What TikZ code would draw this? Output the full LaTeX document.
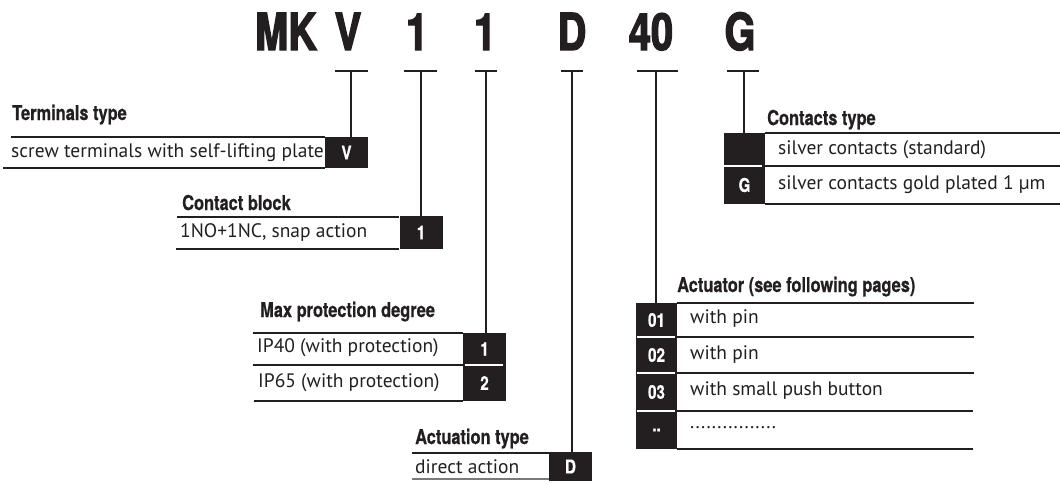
\documentclass[tikz,border=0pt]{standalone}
\usepackage{fontspec}
\newfontfamily\hdf[FakeStretch=0.8,FakeBold=0.6]{TeX Gyre Heros}
\newfontfamily\ttlf[FakeStretch=0.78,FakeBold=2.5]{TeX Gyre Heros}
\newfontfamily\bodyf{PT Sans}
\definecolor{ink}{HTML}{231F20}
\begin{document}
\begin{tikzpicture}[x=1pt,y=-1pt,
  ttl/.style={font=\ttlf\bfseries\fontsize{51}{51}\selectfont, text=ink, anchor=base, inner sep=0},
  hdr/.style={font=\hdf\bfseries\fontsize{20.5}{21}\selectfont, text=ink, anchor=base west, inner sep=0},
  txt/.style={font=\bodyf\fontsize{19.5}{19.5}\selectfont, text=ink, anchor=west, inner sep=0},
  codebox/.style={fill=ink, text=white, font=\hdf\bfseries\fontsize{19}{19}\selectfont, inner sep=0, minimum width=43pt},
  rule/.style={draw=ink, line width=2pt},
  grule/.style={draw=ink!60, line width=1.5pt},
  tick/.style={draw=ink, line width=2.6pt},
  sep/.style={draw=white, line width=1.6pt},
  conn/.style={draw=ink, line width=2pt}]
\useasboundingbox (0,0) rectangle (1060,483);

% title
\node[ttl] (tmk) at (286,50) {MK};
\node[ttl] (tv)  at (348,50) {V};
\node[ttl] (t1a) at (417,50) {1};
\node[ttl] (t1b) at (485,50) {1};
\node[ttl] (td)  at (572,50) {D};
\node[ttl] (t40) at (651,50) {40};
\node[ttl] (tg)  at (740,50) {G};

% tick bars
\coordinate (bv)  at (351,71);
\coordinate (b1a) at (421,71);
\coordinate (b1b) at (486,71);
\coordinate (bd)  at (572,71);
\coordinate (b40) at (656,71);
\coordinate (bg)  at (744,71);
\draw[tick] (335,71) -- (368,71);
\draw[tick] (404,71) -- (437,71);
\draw[tick] (475,71) -- (497,71);
\draw[tick] (561,71) -- (583,71);
\draw[tick] (637,71) -- (678,71);
\draw[tick] (727,71) -- (759,71);

% Terminals type
\node[hdr] (hterm) at (12,120) {Terminals type};
\draw[rule] (11,137) -- (325,137);
\draw[rule] (3,168) -- (325,168);
\node[codebox, minimum height=31pt] (cv) at (346.5,152.5) {V};
\node[txt] (xv) at (11,152.5) {screw terminals with self-lifting plate};
\draw[conn] (bv) -- (bv |- cv.north);

% Contact block
\node[hdr] (hcb) at (182,210) {Contact block};
\draw[rule] (177,217) -- (399,217);
\draw[rule] (176,249) -- (399,249);
\node[codebox, minimum height=33pt] (c1a) at (421,232.5) {1};
\node[txt] (x1a) at (180,233) {1NO+1NC, snap action};
\draw[conn] (b1a) -- (b1a |- c1a.north);

% Max protection degree
\node[hdr] (hmp) at (260,317) {Max protection degree};
\draw[rule] (253,333) -- (463,333);
\draw[rule] (253,365) -- (463,365);
\draw[rule] (254,401) -- (463,401);
\node[codebox, minimum height=32pt] (c1b) at (484.5,349) {1};
\node[codebox, minimum height=36pt] (c2b) at (484.5,383) {2};
\draw[sep] (465,365) -- (503,365);
\node[txt] (x1b) at (257,348) {IP40 (with protection)};
\node[txt] (x2b) at (258,383) {IP65 (with protection)};
\draw[conn] (b1b) -- (b1b |- c1b.north);

% Actuation type
\node[hdr] (hat) at (415,444) {Actuation type};
\draw[rule] (412,453) -- (549,453);
\draw[grule] (412,479) -- (549,479);
\node[codebox, minimum height=29pt] (cd) at (570.5,466.5) {D};
\node[txt] (xd) at (415,467) {direct action};
\draw[conn] (bd) -- (bd |- cd.north);

% Actuator
\node[hdr] (hac) at (677,292) {Actuator (see following pages)};
\draw[rule] (677,303) -- (974,303);
\draw[rule] (677,337) -- (974,337);
\draw[rule] (677,373) -- (974,373);
\draw[rule] (677,411) -- (973,411);
\draw[rule] (677,449) -- (973,449);
\node[codebox, minimum width=41pt, minimum height=34pt] (c01) at (656.5,320) {01};
\node[codebox, minimum width=41pt, minimum height=36pt] (c02) at (656.5,355) {02};
\node[codebox, minimum width=41pt, minimum height=38pt] (c03) at (656.5,392) {03};
\node[codebox, minimum width=41pt, minimum height=38pt] (c04) at (656.5,430) {..};
\draw[sep] (637,337) -- (675,337);
\draw[sep] (637,373) -- (675,373);
\draw[sep] (637,411) -- (675,411);
\node[txt] (x01) at (690,319) {with pin};
\node[txt] (x02) at (690,355) {with pin};
\node[txt] (x03) at (690,391) {with small push button};
\node[txt] (x04) at (690,428) {................};
\draw[conn] (b40) -- (b40 |- c01.north);

% Contacts type
\node[hdr] (hct) at (767,125) {Contacts type};
\draw[rule] (765,133) -- (1060,133);
\draw[rule] (765,166) -- (1060,166);
\draw[rule] (765,204) -- (1060,204);
\node[codebox, minimum width=41pt, minimum height=33pt] (cs) at (744.5,149.5) {};
\node[codebox, minimum width=41pt, minimum height=38pt] (cg) at (744.5,185) {G};
\draw[sep] (724,166) -- (762,166);
\node[txt] (xs) at (778,150) {silver contacts (standard)};
\node[txt] (xg) at (778,185) {silver contacts gold plated 1 µm};
\draw[conn] (bg) -- (bg |- cs.north);
\end{tikzpicture}
\end{document}
